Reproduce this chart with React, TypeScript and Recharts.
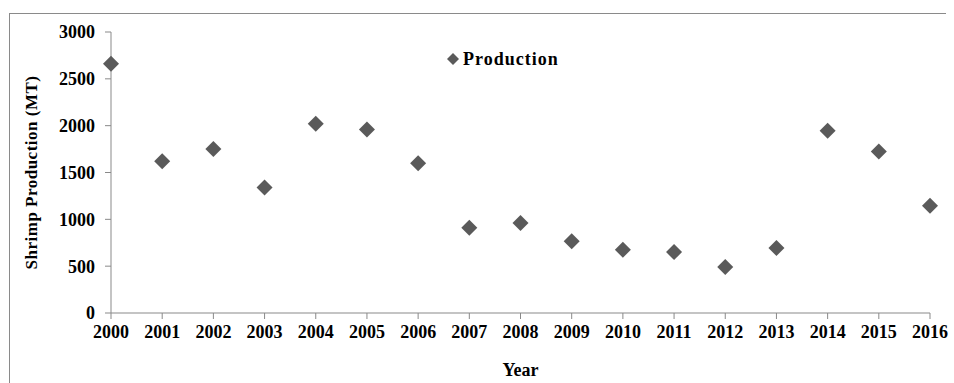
import { Scatter, ScatterChart, XAxis, YAxis } from "recharts"

const YEARS = [2000, 2001, 2002, 2003, 2004, 2005, 2006, 2007, 2008, 2009, 2010, 2011, 2012, 2013, 2014, 2015, 2016]
const PRODUCTION = [2660, 1620, 1750, 1340, 2020, 1960, 1600, 910, 960, 765, 675, 650, 490, 695, 1945, 1725, 1145]
const Y_TICKS = [0, 500, 1000, 1500, 2000, 2500, 3000]

const FONT = "'Liberation Serif', 'Times New Roman', serif"
const AXIS = "#898989"
const MARK = "#5a5a5a"

const data = YEARS.map((year, i) => ({ year, value: PRODUCTION[i] }))

function Diamond(props: any) {
  const { cx, cy } = props
  const r = 8
  return <polygon points={`${cx},${cy - r} ${cx + r},${cy} ${cx},${cy + r} ${cx - r},${cy}`} fill={MARK} />
}

// legend drawn outside the chart so it doesn't eat the top margin
function LegendBox() {
  return (
    <svg width={140} height={24} style={{ position: "absolute", left: 445, top: 47 }}>
      <polygon points="8,6 14,12 8,18 2,12" fill={MARK} />
      <text x={18} y={18} fontFamily={FONT} fontWeight="bold" fontSize={18} letterSpacing={1} fill="#000">
        Production
      </text>
    </svg>
  )
}

export default function App() {
  const tickStyle = { fill: "#000", fontSize: 18, fontWeight: "bold", fontFamily: FONT }
  return (
    <div style={{ position: "absolute", left: 0, top: 0, width: 954, height: 383, background: "#fff" }}>
      <div
        style={{
          position: "absolute",
          left: 9,
          top: 13,
          width: 936,
          height: 370,
          borderLeft: "1px solid #8a8a8a",
          borderTop: "1px solid #8a8a8a",
        }}
      />
      <ScatterChart width={954} height={383} margin={{ top: 32, right: 24, bottom: 0, left: 0 }} style={{ position: "absolute", left: 0, top: 0 }}>
        <XAxis
          type="number"
          dataKey="year"
          domain={[2000, 2016]}
          ticks={YEARS}
          interval={0}
          height={70}
          tickSize={6}
          tickMargin={6}
          stroke={AXIS}
          tick={tickStyle}
          label={{
            content: (p: any) => (
              <text x={p.viewBox.x + p.viewBox.width / 2} y={p.viewBox.y + 63} textAnchor="middle" fontFamily={FONT} fontWeight="bold" fontSize={18} fill="#000">
                Year
              </text>
            ),
          }}
        />
        <YAxis
          type="number"
          dataKey="value"
          domain={[0, 3000]}
          ticks={Y_TICKS}
          interval={0}
          width={111}
          tickSize={6}
          tickMargin={10}
          stroke={AXIS}
          tick={tickStyle}
          label={{
            content: (p: any) => {
              const cx = 33
              const cy = p.viewBox.y + p.viewBox.height / 2
              return (
                <text x={cx} y={cy} transform={`rotate(-90 ${cx} ${cy})`} textAnchor="middle" dominantBaseline="middle" fontFamily={FONT} fontWeight="bold" fontSize={17} letterSpacing={0.5} fill="#000">
                  Shrimp Production (MT)
                </text>
              )
            },
          }}
        />
        <Scatter name="Production" data={data} shape={<Diamond />} isAnimationActive={false} />
      </ScatterChart>
      <LegendBox />
    </div>
  )
}
